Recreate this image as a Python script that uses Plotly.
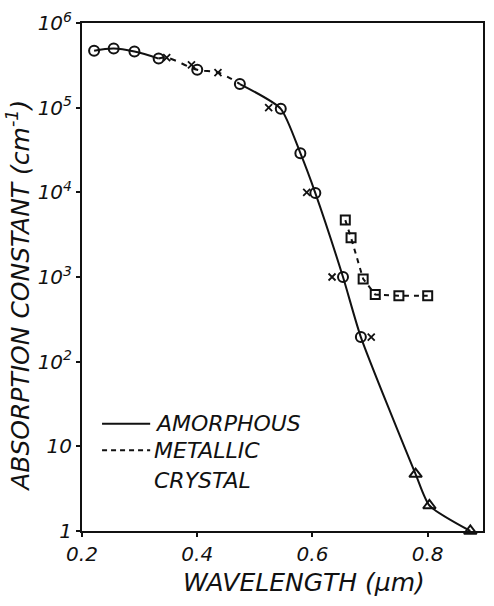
import plotly.graph_objects as go

# ---- data ----
# amorphous: open circles
amo_x = [0.221, 0.255, 0.291, 0.333, 0.400, 0.474, 0.545, 0.579, 0.605, 0.653, 0.684]
amo_y = [4.7e5, 5.0e5, 4.6e5, 3.8e5, 2.8e5, 1.9e5, 9.7e4, 2.9e4, 9.8e3, 1.0e3, 195]
# amorphous: open triangles (long wavelength)
tri_x = [0.779, 0.803, 0.874]
tri_y = [4.7, 2.0, 1.0]
# crosses
crs_x = [0.347, 0.390, 0.436, 0.524, 0.590, 0.634, 0.702]
crs_y = [3.9e5, 3.2e5, 2.6e5, 1.0e5, 1.0e4, 1.0e3, 195]
# metallic crystal: open squares
sq_x = [0.657, 0.667, 0.688, 0.709, 0.750, 0.800]
sq_y = [4.7e3, 2.9e3, 950, 620, 600, 600]

x_ticks = [0.2, 0.4, 0.6, 0.8]
x_ticklabels = ["0.2", "0.4", "0.6", "0.8"]
y_ticks = [1, 10, 1e2, 1e3, 1e4, 1e5, 1e6]
y_ticklabels = ["1", "10", "10<sup>2</sup>", "10<sup>3</sup>", "10<sup>4</sup>",
                "10<sup>5</sup>", "10<sup>6</sup>"]

FONT = "DejaVu Sans"
BLACK = "#111111"

fig = go.Figure()

# solid curve (first part)
fig.add_trace(go.Scatter(x=amo_x[:4], y=amo_y[:4], mode="lines",
                         line=dict(color=BLACK, width=2, shape="spline"),
                         hoverinfo="skip", showlegend=False))
# dashed middle section
mid_x = [amo_x[3], crs_x[0], amo_x[4], crs_x[2], amo_x[5]]
mid_y = [amo_y[3], crs_y[0], amo_y[4], crs_y[2], amo_y[5]]
fig.add_trace(go.Scatter(x=mid_x, y=mid_y, mode="lines",
                         line=dict(color=BLACK, width=2, dash="6px,6px", shape="spline"),
                         hoverinfo="skip", showlegend=False))
# solid curve (steep part)
fig.add_trace(go.Scatter(x=amo_x[5:] + tri_x, y=amo_y[5:] + tri_y, mode="lines",
                         line=dict(color=BLACK, width=2, shape="spline", smoothing=0.6),
                         hoverinfo="skip", showlegend=False))
# metallic crystal dashed line
fig.add_trace(go.Scatter(x=sq_x, y=sq_y, mode="lines",
                         line=dict(color=BLACK, width=2, dash="5px,5px"),
                         hoverinfo="skip", showlegend=False))

# markers
fig.add_trace(go.Scatter(x=amo_x, y=amo_y, mode="markers",
                         marker=dict(symbol="circle-open", size=10, color=BLACK,
                                     line=dict(width=2, color=BLACK)),
                         showlegend=False, cliponaxis=False))
fig.add_trace(go.Scatter(x=tri_x, y=tri_y, mode="markers",
                         marker=dict(symbol="triangle-up-open", size=11, color=BLACK,
                                     line=dict(width=2, color=BLACK)),
                         showlegend=False, cliponaxis=False))
fig.add_trace(go.Scatter(x=crs_x, y=crs_y, mode="markers",
                         marker=dict(symbol="x-thin-open", size=7, color=BLACK,
                                     line=dict(width=1.8, color=BLACK)),
                         showlegend=False, cliponaxis=False))
fig.add_trace(go.Scatter(x=sq_x, y=sq_y, mode="markers",
                         marker=dict(symbol="square-open", size=9, color=BLACK,
                                     line=dict(width=2, color=BLACK)),
                         showlegend=False, cliponaxis=False))

# legend drawn by hand
fig.add_shape(type="line", xref="paper", yref="paper", x0=0.05, x1=0.17, y0=0.211, y1=0.211,
              line=dict(color=BLACK, width=2))
fig.add_shape(type="line", xref="paper", yref="paper", x0=0.05, x1=0.17, y0=0.159, y1=0.159,
              line=dict(color=BLACK, width=2, dash="5px,4px"))
leg_font = dict(family=FONT, size=22, color=BLACK, style="italic")
fig.add_annotation(xref="paper", yref="paper", x=0.177, y=0.211, text="AMORPHOUS",
                   showarrow=False, xanchor="left", yanchor="middle", font=leg_font)
fig.add_annotation(xref="paper", yref="paper", x=0.175, y=0.159, text="METALLIC",
                   showarrow=False, xanchor="left", yanchor="middle", font=leg_font)
fig.add_annotation(xref="paper", yref="paper", x=0.175, y=0.099, text="CRYSTAL",
                   showarrow=False, xanchor="left", yanchor="middle", font=leg_font)

# axis titles as annotations
fig.add_annotation(xref="paper", yref="paper", x=0.553, y=-0.101,
                   text="WAVELENGTH (μm)", showarrow=False,
                   xanchor="center", yanchor="middle",
                   font=dict(family=FONT, size=25, color=BLACK, style="italic"))
fig.add_annotation(xref="paper", yref="paper", x=-0.157, y=0.463,
                   text="ABSORPTION CONSTANT (cm<sup>-1</sup>)", showarrow=False,
                   textangle=-90, xanchor="center", yanchor="middle",
                   font=dict(family=FONT, size=25, color=BLACK, style="italic"))

tick_font = dict(family=FONT, size=20, color=BLACK, style="italic")
fig.update_xaxes(range=[0.2, 0.896], tickvals=x_ticks, ticktext=x_ticklabels,
                 showgrid=False, zeroline=False, showline=True, linecolor=BLACK,
                 linewidth=2, mirror=True, ticks="outside", ticklen=4, tickwidth=2,
                 tickcolor=BLACK, tickfont=tick_font)
fig.update_yaxes(type="log", range=[0, 6], tickvals=y_ticks, ticktext=y_ticklabels,
                 showgrid=False, zeroline=False, showline=True, linecolor=BLACK,
                 linewidth=2, mirror=True, ticks="outside", ticklen=4, tickwidth=2,
                 tickcolor=BLACK, tickfont=tick_font)

fig.update_layout(width=494, height=606, margin=dict(l=82, r=9, t=15, b=75),
                  paper_bgcolor="white", plot_bgcolor="white", showlegend=False)

fig.write_html("out.html")
